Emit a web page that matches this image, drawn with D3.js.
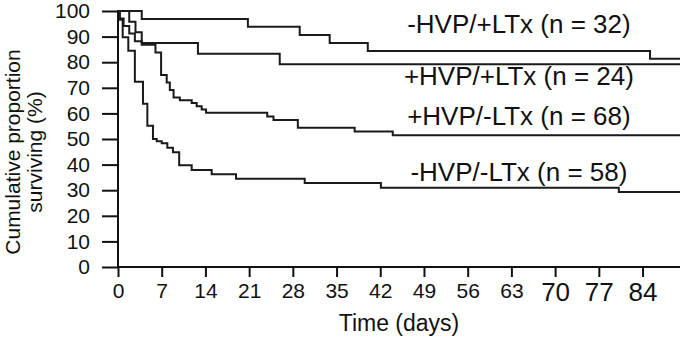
<!DOCTYPE html>
<html>
<head>
<meta charset="utf-8">
<script src="https://cdn.jsdelivr.net/npm/d3@7"></script>
<style>
  body { margin: 0; background: #fff; }
  text { font-family: "Liberation Sans", Arial, sans-serif; fill: #111; }
</style>
</head>
<body>
<div id="wrapper"></div>
<script>
// survival steps (day, % surviving)
const negHvpPosLtxDays = [0, 3.8, 20.8, 29.1, 33.9, 40.0, 85.2, 90];
const negHvpPosLtxSurv = [100, 96.9, 93.8, 90.6, 87.5, 84.4, 81.3, 81.3];

const posHvpPosLtxDays = [0, 1.8, 2.8, 3.8, 12.8, 25.9, 90];
const posHvpPosLtxSurv = [100, 95.8, 91.7, 87.5, 83.3, 79.2, 79.2];

const posHvpNegLtxDays = [0, 0.25, 0.9, 1.8, 2.7, 3.8, 6.0, 6.9, 7.8, 8.3, 8.9, 9.9, 11.8, 12.6, 13.4, 14.1, 23.9, 24.9, 28.8, 37.9, 44.0, 90];
const posHvpNegLtxSurv = [100, 97.1, 94.1, 91.2, 88.2, 86.8, 83.8, 75.0, 72.1, 69.1, 66.2, 65.1, 64.1, 62.8, 61.5, 60.3, 58.8, 57.4, 54.4, 52.9, 51.5, 51.5];

const negHvpNegLtxDays = [0, 0.3, 0.75, 1.65, 2.7, 4.0, 4.7, 5.6, 6.2, 7.0, 7.9, 8.8, 9.8, 11.8, 15.0, 18.9, 29.9, 42.1, 80.2, 90];
const negHvpNegLtxSurv = [100, 96.6, 89.7, 84.5, 72.4, 63.8, 55.2, 50.0, 49.1, 48.3, 46.6, 44.8, 39.7, 37.9, 36.2, 34.5, 32.8, 31.0, 29.3, 29.3];

const groupLabels = ["-HVP/+LTx (n = 32)", "+HVP/+LTx (n = 24)", "+HVP/-LTx (n = 68)", "-HVP/-LTx (n = 58)"];
const labelSurv = [91.5, 71.2, 55.5, 33.5];

const xTicks = [0, 7, 14, 21, 28, 35, 42, 49, 56, 63, 70, 77, 84];
const bigXTicks = [70, 77, 84];
const yTicks = [0, 10, 20, 30, 40, 50, 60, 70, 80, 90, 100];

const width = 685;
const height = 337;

const wrapper = d3.select("#wrapper")
  .append("svg")
    .attr("width", width)
    .attr("height", height);

const xScaler = d3.scaleLinear()
  .domain([0, 90])
  .range([118, 680]);

const yScaler = d3.scaleLinear()
  .domain([0, 100])
  .range([267, 11]);

// axes
const yAxisGenerator = d3.axisLeft(yScaler)
  .tickValues(yTicks)
  .tickSize(16)
  .tickPadding(12);

const yAxis = wrapper.append("g")
  .attr("transform", `translate(${xScaler(0)},0)`)
  .call(yAxisGenerator);
yAxis.select(".domain").attr("d", `M0,${yScaler(100) - 1}V${yScaler(0)}`);
yAxis.selectAll("text").style("font-size", "21px");

const xAxisGenerator = d3.axisBottom(xScaler)
  .tickValues(xTicks)
  .tickSize(10)
  .tickPadding(6);

const xAxis = wrapper.append("g")
  .attr("transform", `translate(0,${yScaler(0)})`)
  .call(xAxisGenerator);
xAxis.select(".domain").attr("d", `M${xScaler(0)},0H${xScaler(90)}`);
xAxis.selectAll("text")
  .style("font-size", d => bigXTicks.includes(d) ? "26px" : "21px");

wrapper.selectAll(".domain, .tick line")
  .attr("stroke", "#111")
  .attr("stroke-width", 2);
wrapper.selectAll(".tick text").attr("font-family", null).attr("font-size", null);

// axis titles
wrapper.append("text")
  .attr("x", xScaler(45))
  .attr("y", 331)
  .attr("text-anchor", "middle")
  .style("font-size", "23px")
  .text("Time (days)");

const yTitle = wrapper.append("text")
  .attr("transform", `translate(0,${152}) rotate(-90)`)
  .attr("text-anchor", "middle")
  .style("font-size", "21px");
yTitle.append("tspan").attr("x", 0).attr("y", 20).text("Cumulative proportion");
yTitle.append("tspan").attr("x", 0).attr("y", 42).text("surviving (%)");

// curves
const series = [
  [negHvpPosLtxDays, negHvpPosLtxSurv],
  [posHvpPosLtxDays, posHvpPosLtxSurv],
  [posHvpNegLtxDays, posHvpNegLtxSurv],
  [negHvpNegLtxDays, negHvpNegLtxSurv]
];

const lineGenerator = d3.line()
  .x(d => xScaler(d[0]))
  .y(d => yScaler(d[1]))
  .curve(d3.curveStepAfter);

series.forEach(([days, surv]) => {
  wrapper.append("path")
    .attr("d", lineGenerator(days.map((d, i) => [d, surv[i]])))
    .attr("fill", "none")
    .attr("stroke", "#1a1a1a")
    .attr("stroke-width", 2);
});

// group labels
wrapper.selectAll(".group-label")
  .data(groupLabels)
  .join("text")
    .attr("class", "group-label")
    .attr("x", xScaler(64.2))
    .attr("y", (d, i) => yScaler(labelSurv[i]))
    .attr("text-anchor", "middle")
    .style("font-size", "26px")
    .text(d => d);
</script>
</body>
</html>
